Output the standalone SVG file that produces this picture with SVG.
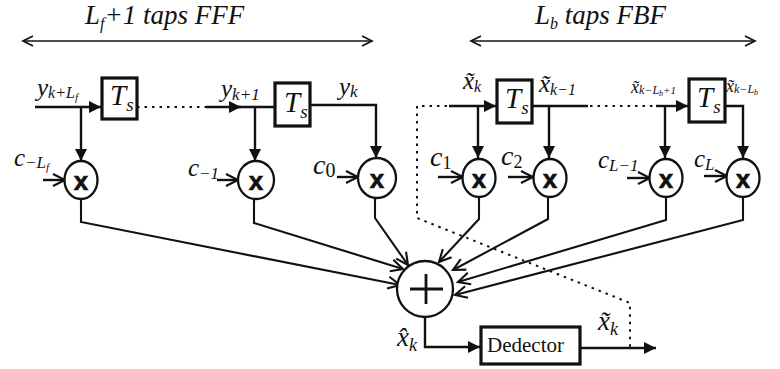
<svg xmlns="http://www.w3.org/2000/svg" width="780" height="369" viewBox="0 0 780 369">
<style>
text{font-family:"Liberation Serif",serif;fill:#111}
.i{font-style:italic}
.w{fill:none;stroke:#111;stroke-width:2.4}
.t{fill:none;stroke:#111;stroke-width:1.7}
.h{fill:none;stroke:#111;stroke-width:2.1}
.d{fill:none;stroke:#111;stroke-width:2;stroke-dasharray:2.5 5}
.b{fill:#fff;stroke:#111;stroke-width:3.2}
.c{fill:#fff;stroke:#111;stroke-width:2.3}
.x{font-family:"Liberation Sans",sans-serif;font-weight:bold;font-size:26px;text-anchor:middle;stroke:#111;stroke-width:.6}
.ts{font-size:29px}
.ts tspan{font-size:19px}
</style>
<defs>
<marker id="s" markerUnits="userSpaceOnUse" markerWidth="14" markerHeight="14" refX="12" refY="6" orient="auto"><path d="M0 0L12 6L0 12z" fill="#111"/></marker>
<marker id="o" markerUnits="userSpaceOnUse" markerWidth="16" markerHeight="16" refX="13" refY="7" orient="auto"><path d="M1 1L13 7L1 13" fill="none" stroke="#111" stroke-width="2.1"/></marker>
<marker id="os" markerUnits="userSpaceOnUse" markerWidth="16" markerHeight="16" refX="11" refY="6" orient="auto-start-reverse"><path d="M1 1L11 6L1 11" fill="none" stroke="#111" stroke-width="1.7"/></marker>
</defs>
<g id="connectors">
<path class="t" d="M23 41H372" marker-start="url(#os)" marker-end="url(#os)"/>
<path class="t" d="M471 41H755" marker-start="url(#os)" marker-end="url(#os)"/>
<path class="w" d="M35 107H101" marker-end="url(#s)"/>
<path class="w" d="M81 107V161" marker-end="url(#s)"/>
<path class="d" d="M137 107H206"/>
<path class="w" d="M206 107H241" marker-end="url(#s)"/>
<path class="w" d="M236 107H276"/>
<path class="w" d="M255 107V161" marker-end="url(#s)"/>
<path class="w" d="M310 105H376V158" marker-end="url(#s)"/>
<path class="w" d="M43 180H65" marker-end="url(#o)"/>
<path class="w" d="M217 180H238" marker-end="url(#o)"/>
<path class="w" d="M337 177H358" marker-end="url(#o)"/>
<path class="w" d="M449 106H496" marker-end="url(#s)"/>
<path class="w" d="M478 106V158" marker-end="url(#s)"/>
<path class="w" d="M532 106H588"/>
<path class="w" d="M549 106V158" marker-end="url(#s)"/>
<path class="d" d="M590 106H655"/>
<path class="w" d="M656 106H688" marker-end="url(#s)"/>
<path class="w" d="M665 106V158" marker-end="url(#s)"/>
<path class="w" d="M725 106H743V158" marker-end="url(#s)"/>
<path class="w" d="M438 177H463" marker-end="url(#o)"/>
<path class="w" d="M508 177H533" marker-end="url(#o)"/>
<path class="w" d="M627 178H650" marker-end="url(#o)"/>
<path class="w" d="M704 176H727" marker-end="url(#o)"/>
<path class="d" d="M447 106H417V218L630 303V348"/>
<path class="h" d="M81 199V222L400 285" marker-end="url(#o)"/>
<path class="h" d="M254 198V223L403 269" marker-end="url(#o)"/>
<path class="h" d="M375 198V218L408 265" marker-end="url(#o)"/>
<path class="h" d="M479 197V219L439 262" marker-end="url(#o)"/>
<path class="h" d="M548 197V219L453 270" marker-end="url(#o)"/>
<path class="h" d="M666 197V220L458 282" marker-end="url(#o)"/>
<path class="h" d="M743 197V220L455 295" marker-end="url(#o)"/>
<path class="w" d="M425 318V347H480" marker-end="url(#s)"/>
<path class="w" d="M580 348H656" marker-end="url(#s)"/>
</g>
<g id="n-t1"><rect class="b" x="102" y="78" width="35" height="41"/><text class="i ts" x="110" y="105">T<tspan dy="6">s</tspan></text></g>
<g id="n-t2"><rect class="b" x="275" y="83" width="35" height="43"/><text class="i ts" x="284" y="112">T<tspan dy="6">s</tspan></text></g>
<g id="n-t3"><rect class="b" x="497" y="80" width="35" height="43"/><text class="i ts" x="505" y="108">T<tspan dy="6">s</tspan></text></g>
<g id="n-t4"><rect class="b" x="689" y="79" width="36" height="43"/><text class="i ts" x="697" y="107">T<tspan dy="6">s</tspan></text></g>
<g id="n-m1"><ellipse class="c" cx="81" cy="180" rx="16.5" ry="19"/><text class="x" x="81" y="190">x</text></g>
<g id="n-m2"><ellipse class="c" cx="256" cy="180" rx="18" ry="19"/><text class="x" x="256" y="190">x</text></g>
<g id="n-m3"><ellipse class="c" cx="377" cy="178" rx="19" ry="20"/><text class="x" x="377" y="188">x</text></g>
<g id="n-m4"><ellipse class="c" cx="479" cy="178" rx="16.5" ry="19"/><text class="x" x="479" y="188">x</text></g>
<g id="n-m5"><ellipse class="c" cx="550" cy="178" rx="16.5" ry="19"/><text class="x" x="550" y="188">x</text></g>
<g id="n-m6"><ellipse class="c" cx="666" cy="178" rx="16.5" ry="19"/><text class="x" x="666" y="188">x</text></g>
<g id="n-m7"><ellipse class="c" cx="743" cy="178" rx="16.5" ry="19"/><text class="x" x="743" y="188">x</text></g>
<g id="n-sum"><circle class="c" cx="425" cy="289" r="28"/><path d="M410 289H443M426 274V304" fill="none" stroke="#111" stroke-width="2.8"/></g>
<g id="n-det"><rect class="b" x="481" y="327" width="99" height="37"/><text x="487" y="352" font-size="21">Dedector</text></g>
<g id="labels">
<text class="i" x="85" y="24" font-size="27">L<tspan font-size="16" dy="5">f</tspan><tspan dy="-5">+1 taps FFF</tspan></text>
<text class="i" x="535" y="24" font-size="27">L<tspan font-size="16" dy="5">b</tspan><tspan dy="-5"> taps FBF</tspan></text>
<text class="i" x="37" y="96" font-size="25">y<tspan font-size="16" dy="2">k+L</tspan><tspan font-size="11" dy="3">f</tspan></text>
<text class="i" x="221" y="97" font-size="25">y<tspan font-size="17" dy="3">k+1</tspan></text>
<text class="i" x="339" y="95" font-size="25">y<tspan font-size="17" dy="2">k</tspan></text>
<text class="i" x="14" y="166" font-size="25">c<tspan font-size="17" dy="2">−L</tspan><tspan font-size="11" dy="3">f</tspan></text>
<text class="i" x="188" y="176" font-size="25">c<tspan font-size="17" dy="3">−1</tspan></text>
<text class="i" x="313" y="174" font-size="28">c<tspan font-size="20" dy="3" font-style="normal">0</tspan></text>
<text class="i" x="430" y="166" font-size="28">c<tspan font-size="18" dy="3" font-style="normal">1</tspan></text>
<text class="i" x="501" y="165" font-size="28">c<tspan font-size="18" dy="3" font-style="normal">2</tspan></text>
<text class="i" x="598" y="168" font-size="25">c<tspan font-size="17" dy="3">L−1</tspan></text>
<text class="i" x="694" y="167" font-size="25">c<tspan font-size="17" dy="3">L</tspan></text>
<text class="i" x="463" y="89" font-size="25">x̃<tspan font-size="16" dy="3">k</tspan></text>
<text class="i" x="539" y="92" font-size="25">x̃<tspan font-size="16" dy="3">k−1</tspan></text>
<text class="i" x="631" y="93" font-size="18">x̃<tspan font-size="12" dy="1">k−L</tspan><tspan font-size="8" dy="2">b</tspan><tspan font-size="11" dy="-2">+1</tspan></text>
<text class="i" x="726" y="92" font-size="18">x̃<tspan font-size="12" dy="1">k−L</tspan><tspan font-size="8" dy="2">b</tspan></text>
<text class="i" x="397" y="346" font-size="27">x̂<tspan font-size="18" dy="5">k</tspan></text>
<text class="i" x="598" y="330" font-size="27">x̃<tspan font-size="18" dy="5">k</tspan></text>
</g>
</svg>
